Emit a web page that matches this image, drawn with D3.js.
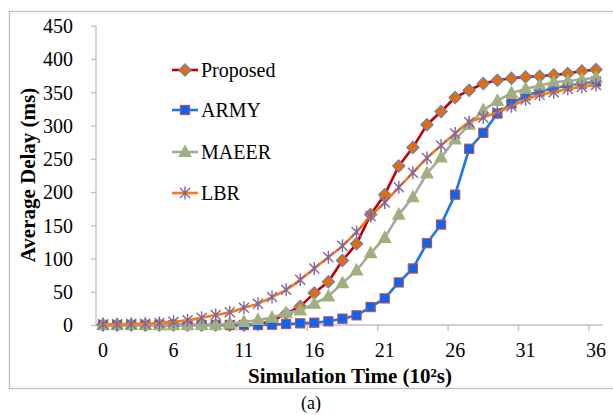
<!DOCTYPE html>
<html>
<head>
<meta charset="utf-8">
<script src="https://cdn.jsdelivr.net/npm/d3@7/dist/d3.min.js"></script>
<style>
  html, body { margin: 0; padding: 0; background: #fff; }
  svg { display: block; }
  text { font-family: "Liberation Serif", "Times New Roman", serif; fill: #000; }
</style>
</head>
<body>
<svg id="chart" width="613" height="415"></svg>
<script>
// ---- data ----
const categories = [0,2,3,4,5,6,7,8,9,10,11,12,13,14,15,16,17,18,19,20,21,22,23,24,25,26,27,28,29,30,31,32,33,34,35,36];
const shownLabels = ["0","6","11","16","21","26","31","36"];
const yTicks = [0,50,100,150,200,250,300,350,400,450];
const seriesNames = ["Proposed","ARMY","MAEER","LBR"];
const proposed = [0,0,0,0,0,0,0,0,0,0,0,1,6,17,28,48,65,97,122,166,196,239,267,301,321,342,353,363,368,371,373,374,376,378,382,384];
const army     = [0,0,0,0,0,0,0,0,0,0,0,0,0.5,1.5,2.5,3.5,5.5,9.5,14.5,27,40,64,85,123,151,196,265,289,318,333,345,351,356,360,363,366];
const maeer    = [0,0,0,0,0,0,0,0,0,2,4.5,7.5,11,18,22,32,43,63,82,108,131,166,192,228,252,279,301,323,337,349,355,360,365,367,369,372];
const lbr      = [1,1,1.5,2,3,5,7,11,15,19,26,32,42,53,68,85,102,119,140,164,184,207,229,251,270,288,305,312,320,329,339,346,350,355,358,361];

// ---- styles ----
const styles = {
  Proposed: { line: "#C00000", fill: "#E46C0A", stroke: "#5B87C5", marker: "diamond" },
  ARMY:     { line: "#1677F0", fill: "#0A64F5", stroke: "#C0504D", marker: "square" },
  MAEER:    { line: "#A6A6A6", fill: "#A3AA94", stroke: "#9BBB59", marker: "triangle" },
  LBR:      { line: "#F07C1C", fill: "none",    stroke: "#8064A2", marker: "star" }
};
const seriesData = { Proposed: proposed, ARMY: army, MAEER: maeer, LBR: lbr };

const svg = d3.select("#chart");
const plotL = 96, plotR = 603, plotT = 25.7, plotB = 325;

// frame
svg.append("rect").attr("x", 9.5).attr("y", 11.5).attr("width", 640).attr("height", 377)
  .attr("fill", "none").attr("stroke", "#BDBDBD").attr("stroke-width", 1.3);

const x = d3.scaleBand().domain(d3.range(categories.length)).range([plotL, plotR]).paddingInner(0).paddingOuter(0);
const y = d3.scaleLinear().domain([0, 450]).range([plotB, plotT]);
const cx = i => x(i) + x.bandwidth() / 2;

// y axis
const yAxis = d3.axisLeft(y).tickValues(yTicks).tickSize(5).tickPadding(18).tickFormat(d3.format("d"));
const gy = svg.append("g").attr("transform", `translate(${plotL},0)`).call(yAxis);
gy.select(".domain").attr("stroke", "#BFBFBF").attr("stroke-width", 1.3).attr("d", `M0,${plotT}V${plotB}`);
gy.selectAll(".tick line").attr("stroke", "#BFBFBF").attr("stroke-width", 1.3);
gy.selectAll(".tick text").attr("font-size", 20).attr("font-family", "Liberation Serif, Times New Roman, serif").attr("fill", "#000").attr("dy", "0.34em");

// x axis (ticks between categories every 5)
const gx = svg.append("g").attr("transform", `translate(0,${plotB})`);
gx.append("line").attr("x1", plotL).attr("x2", plotR).attr("y1", 0).attr("y2", 0)
  .attr("stroke", "#BFBFBF").attr("stroke-width", 1.3);
const tickIdx = d3.range(5, categories.length, 5);
gx.selectAll("line.t").data(tickIdx).enter().append("line").attr("class", "t")
  .attr("x1", i => x(i)).attr("x2", i => x(i)).attr("y1", 0).attr("y2", 6)
  .attr("stroke", "#BFBFBF").attr("stroke-width", 1.3);
const labelIdx = d3.range(0, categories.length, 5);
gx.selectAll("text.l").data(labelIdx).enter().append("text").attr("class", "l")
  .attr("x", i => cx(i)).attr("y", 32).attr("text-anchor", "middle").attr("font-size", 20)
  .text((i, k) => shownLabels[k] !== undefined ? shownLabels[k] : String(categories[i]));

// axis titles
svg.append("text").attr("x", 350).attr("y", 383).attr("text-anchor", "middle")
  .attr("font-size", 21).attr("font-weight", "bold").text("Simulation Time (10²s)");
svg.append("text").attr("transform", "translate(35,175) rotate(-90)").attr("text-anchor", "middle")
  .attr("font-size", 21).attr("font-weight", "bold").text("Average Delay (ms)");
svg.append("text").attr("x", 311).attr("y", 409).attr("text-anchor", "middle")
  .attr("font-size", 18).text("(a)");

// markers
function drawMarker(g, type, st) {
  if (type === "diamond") {
    g.append("path").attr("d", "M0,-6.2L6.2,0L0,6.2L-6.2,0Z").attr("fill", st.fill).attr("stroke", st.stroke).attr("stroke-width", 1.1);
  } else if (type === "square") {
    g.append("rect").attr("x", -4.6).attr("y", -4.6).attr("width", 9.2).attr("height", 9.2)
      .attr("fill", st.fill).attr("stroke", st.stroke).attr("stroke-width", 1.1);
  } else if (type === "triangle") {
    g.append("path").attr("d", "M0,-6.5L6,4.5L-6,4.5Z").attr("fill", st.fill).attr("stroke", st.stroke).attr("stroke-width", 1.1);
  } else if (type === "star") {
    g.append("path").attr("d", "M-5,-5L5,5M-5,5L5,-5M0,-6.5L0,6.5").attr("fill", "none").attr("stroke", st.stroke).attr("stroke-width", 1.4);
  }
}

const lineGen = d3.line().x((d, i) => cx(i)).y(d => y(d));
const lineSmooth = d3.line().x((d, i) => cx(i)).y(d => y(d)).curve(d3.curveCatmullRom.alpha(0.5));

seriesNames.forEach(name => {
  const st = styles[name];
  const vals = seriesData[name];
  svg.append("path").datum(vals)
    .attr("d", name === "LBR" ? lineSmooth : lineGen)
    .attr("fill", "none").attr("stroke", st.line).attr("stroke-width", 2.6).attr("stroke-linejoin", "round");
  const mg = svg.append("g");
  vals.forEach((v, i) => {
    const g = mg.append("g").attr("transform", `translate(${cx(i)},${y(v)})`);
    drawMarker(g, st.marker, st);
  });
});

// legend
const legY = [70, 110, 152, 193];
seriesNames.forEach((name, k) => {
  const st = styles[name];
  const g = svg.append("g").attr("transform", `translate(0,${legY[k]})`);
  g.append("line").attr("x1", 172).attr("x2", 198).attr("y1", 0).attr("y2", 0)
    .attr("stroke", st.line).attr("stroke-width", 2.6);
  const m = g.append("g").attr("transform", "translate(185,0)");
  drawMarker(m, st.marker, st);
  g.append("text").attr("x", 201).attr("y", 7).attr("font-size", 20).text(name);
});
</script>
</body>
</html>
